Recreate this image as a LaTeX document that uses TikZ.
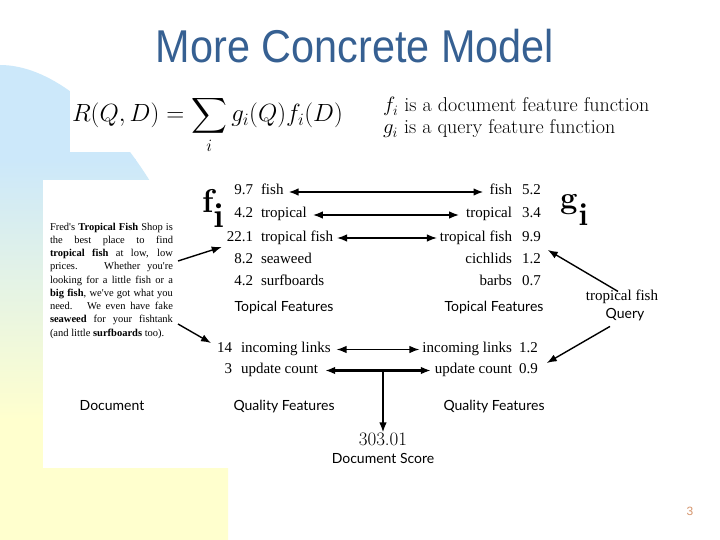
\documentclass[tikz,border=0pt]{standalone}
\usepackage{amsmath}
\usepackage{fontspec}
\usepackage{graphicx}
\newfontfamily\tms{Liberation Serif}
\newfontfamily\gill{Lato}
\newfontfamily\arial{Liberation Sans}
\usetikzlibrary{arrows.meta,calc}
\definecolor{bgblue}{RGB}{204,232,250}
\definecolor{bgyellow}{RGB}{255,255,206}
\definecolor{titleblue}{RGB}{54,96,146}
\definecolor{numorange}{RGB}{214,150,110}
\begin{document}
\begin{tikzpicture}[x=1pt,y=-1pt,
  every node/.style={inner sep=0pt, outer sep=0pt},
  lst/.style={font=\tms\fontsize{15}{18}\selectfont},
  lnum/.style={lst, anchor=base east},
  lword/.style={lst, anchor=base west},
  rword/.style={lst, anchor=base east},
  rnum/.style={lst, anchor=base west},
  sanslabel/.style={font=\gill\fontsize{14}{17}\selectfont, anchor=base},
  onearrow/.style={-{Latex[length=10pt,width=7.5pt]}, line width=1.4pt},
  twoarrow/.style={{Latex[length=10pt,width=7.5pt]}-{Latex[length=10pt,width=7.5pt]}, line width=1.6pt},
]
\useasboundingbox (0,0) rectangle (720,540);
\fill[white] (0,0) rectangle (720,540);
% slide background
\begin{scope}
  \clip (0,65) .. controls (95,65) and (212,230) .. (228,420) -- (228,540) -- (0,540) -- cycle;
  \fill[bgblue] (0,0) rectangle (240,160);
  \shade[top color=bgblue, bottom color=bgyellow] (0,159.5) rectangle (240,420.5);
  \fill[bgyellow] (0,420) rectangle (240,540);
\end{scope}
\fill[white] (70,88) rectangle (720,152);
\fill[white] (43,180) rectangle (720,468);

% title
\node[font=\arial\fontsize{46}{50}\selectfont, text=titleblue, anchor=base] (title) at (355,63) {\scalebox{0.9}[1]{More Concrete Model}};

% formula
\node[anchor=base west, font=\fontsize{26}{30}\selectfont] (formula) at (72,122) {$\displaystyle R(Q,D)=\sum_i g_i(Q)f_i(D)$};
\node[anchor=base west, font=\fontsize{20}{24}\selectfont] (deff) at (383,112) {$f_i$ is a document feature function};
\node[anchor=base west, font=\fontsize{20}{24}\selectfont] (defg) at (383,134) {$g_i$ is a query feature function};

% f_i and g_i
\node[anchor=base west, font=\bfseries] (fi) at (202,212) {\fontsize{33}{36}\selectfont f\raisebox{-16pt}{\fontsize{35}{38}\selectfont i}};
\node[anchor=base west, font=\bfseries] (gi) at (560,209) {\fontsize{31}{34}\selectfont g\kern1pt\raisebox{-17pt}{\fontsize{32}{35}\selectfont i}};

% document text
\node[anchor=base west] (doctext) at (50,230) {\parbox[t]{123pt}{\tms\fontsize{10.5}{13.25}\selectfont
\makebox[\linewidth][s]{Fred's \textbf{Tropical Fish} Shop is}\\
\makebox[\linewidth][s]{the best place to find}\\
\makebox[\linewidth][s]{\textbf{tropical fish} at low, low}\\
\makebox[\linewidth][s]{prices. \quad Whether you're}\\
\makebox[\linewidth][s]{looking for a little fish or a}\\
\makebox[\linewidth][s]{\textbf{big fish}, we've got what you}\\
\makebox[\linewidth][s]{need. \ We even have fake}\\
\makebox[\linewidth][s]{\textbf{seaweed} for your fishtank}\\
(and little \textbf{surfboards} too).}};
\node[sanslabel] (doclabel) at (112,410) {Document};

% left topical list
\node[lnum] (ln1) at (253,195) {9.7};  \node[lword] (lw1) at (261,195) {fish};
\node[lnum] (ln2) at (253,218) {4.2};  \node[lword] (lw2) at (261,218) {tropical};
\node[lnum] (ln3) at (253,241) {22.1}; \node[lword] (lw3) at (261,241) {tropical fish};
\node[lnum] (ln4) at (253,263) {8.2};  \node[lword] (lw4) at (261,263) {seaweed};
\node[lnum] (ln5) at (253,285) {4.2};  \node[lword] (lw5) at (261,285) {surfboards};
\node[sanslabel] (ltop) at (284,311) {Topical Features};

% right topical list
\node[rword] (rw1) at (512,195) {fish};          \node[rnum] (rn1) at (522,195) {5.2};
\node[rword] (rw2) at (512,218) {tropical};      \node[rnum] (rn2) at (522,218) {3.4};
\node[rword] (rw3) at (512,241) {tropical fish}; \node[rnum] (rn3) at (522,241) {9.9};
\node[rword] (rw4) at (512,263) {cichlids};      \node[rnum] (rn4) at (522,263) {1.2};
\node[rword] (rw5) at (512,285) {barbs};         \node[rnum] (rn5) at (522,285) {0.7};
\node[sanslabel] (rtop) at (494,311) {Topical Features};

% quality lists
\node[lnum] (qln1) at (232,352) {14}; \node[lword] (qlw1) at (241,352) {incoming links};
\node[lnum] (qln2) at (232,373) {3};  \node[lword] (qlw2) at (241,373) {update count};
\node[sanslabel] (lqual) at (284,410) {Quality Features};
\node[rword] (qrw1) at (512,352) {incoming links}; \node[rnum] (qrn1) at (519,352) {1.2};
\node[rword] (qrw2) at (512,373) {update count};   \node[rnum] (qrn2) at (519,373) {0.9};
\node[sanslabel] (rqual) at (494,410) {Quality Features};

% query
\node[lst, anchor=base] (qtext) at (622,300) {tropical fish};
\node[sanslabel] (query) at (625,318) {Query};

% score
\node[anchor=base, font=\fontsize{19}{22}\selectfont] (score) at (383,445) {303.01};
\node[sanslabel] (scorelabel) at (383,463) {Document Score};

% page number
\node[font=\arial\fontsize{12}{14}\selectfont, text=numorange] (pg) at (690,511) {3};

% connectors
\draw[twoarrow] ($(lw1.base east)+(5,-3)$) -- ($(rw1.base west)+(-6,-3)$);
\draw[twoarrow] ($(lw2.base east)+(6,-3)$) -- ($(rw2.base west)+(-7,-3)$);
\draw[twoarrow, line width=1.3pt] ($(lw3.base east)+(4,-3)$) -- ($(rw3.base west)+(-3,-3)$);
\draw[twoarrow, line width=1.3pt] ($(qlw1.base east)+(6,-2.5)$) -- ($(qrw1.base west)+(-3,-2.5)$);
\draw[twoarrow, line width=2.2pt] ($(qlw2.base east)+(7,-2.5)$) -- ($(qrw2.base west)+(-4,-2.5)$);
\coordinate (jn) at (383,370.5);
\draw[onearrow, line width=1.6pt] (jn) -- (score.north);
\draw[onearrow] ($(doctext.base east)+(5,31)$) -- ($(ln3.base west)+(-5,6)$);
\draw[onearrow] ($(doctext.base east)+(5,94)$) -- ($(qln1.base west)+(-6,-9)$);
\draw[onearrow] ($(qtext.north)+(-4,2)$) -- ($(rn4.base east)+(7,-13)$);
\draw[onearrow] ($(query.south)+(-15,6)$) -- ($(qrn2.base east)+(9,-10)$);
\end{tikzpicture}
\end{document}
